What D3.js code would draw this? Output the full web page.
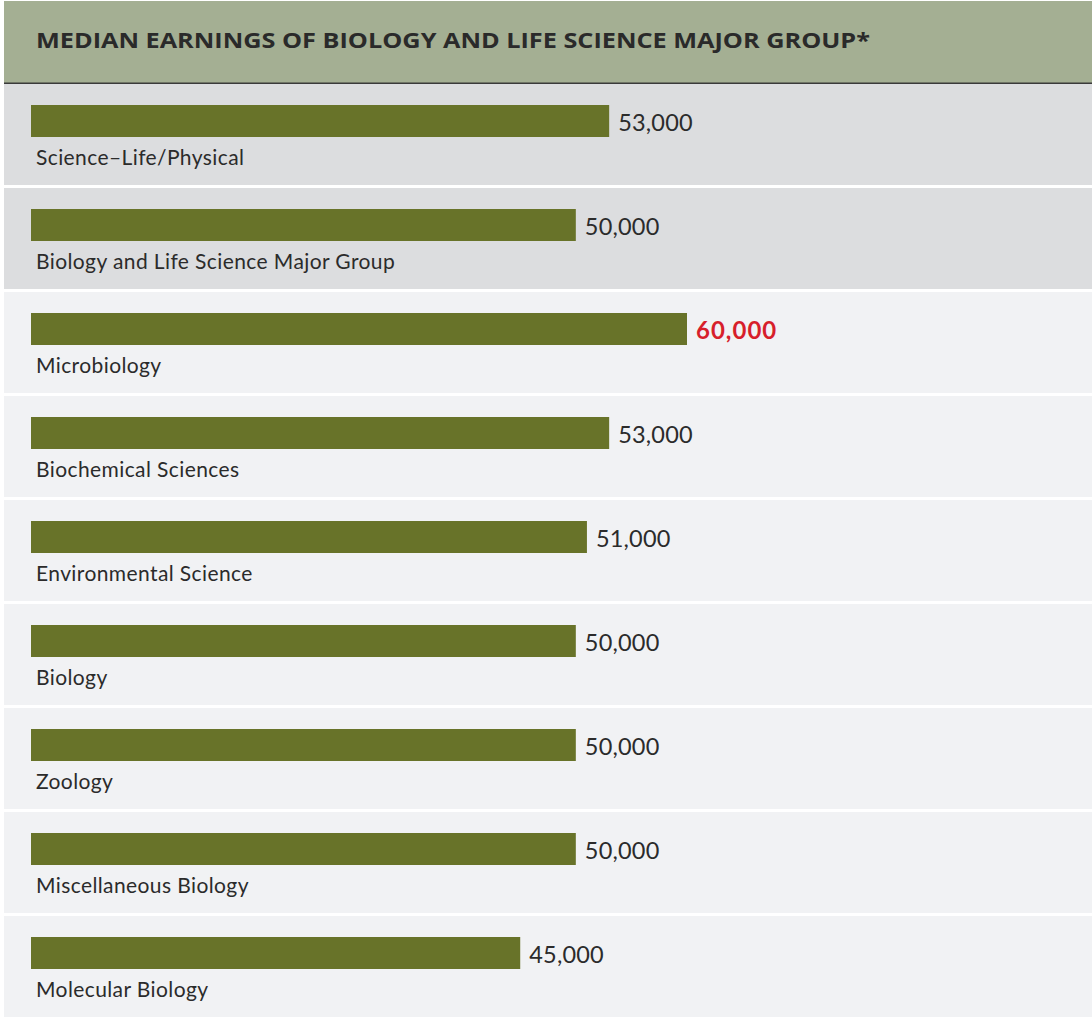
<!DOCTYPE html>
<html>
<head>
<meta charset="utf-8">
<script src="https://cdn.jsdelivr.net/npm/d3@7"></script>
<style>
  html, body { margin: 0; padding: 0; background: #ffffff; }
  svg { display: block; }
</style>
</head>
<body>
<svg id="chart" width="1092" height="1017"></svg>
<script>
const title = "MEDIAN EARNINGS OF BIOLOGY AND LIFE SCIENCE MAJOR GROUP*";
const categories = [
  "Science\u2013Life/Physical",
  "Biology and Life Science Major Group",
  "Microbiology",
  "Biochemical Sciences",
  "Environmental Science",
  "Biology",
  "Zoology",
  "Miscellaneous Biology",
  "Molecular Biology"
];
const values = [53000, 50000, 60000, 53000, 51000, 50000, 50000, 50000, 45000];
const summaryRows = ["Science\u2013Life/Physical", "Biology and Life Science Major Group"];
const highlight = ["Microbiology"];

const svg = d3.select("#chart");
const W = 1092, H = 1017;

// header
svg.append("rect").attr("x", 4).attr("y", 1).attr("width", W - 4).attr("height", 82).attr("fill", "#a4af93");
svg.append("rect").attr("x", 4).attr("y", 82.5).attr("width", W - 4).attr("height", 1.5).attr("fill", "#3a3a3a");
svg.append("text")
  .attr("x", 36).attr("y", 47.5)
  .attr("font-family", "'Open Sans', Lato, sans-serif")
  .attr("font-weight", 700)
  .attr("font-size", 20.5)
  .attr("fill", "#2a2a2a")
  .attr("textLength", 834)
  .attr("lengthAdjust", "spacingAndGlyphs")
  .text(title);

const y = d3.scaleBand().domain(categories).range([84, 1017]).paddingInner(3 / 104).paddingOuter(0);
const x = d3.scaleLinear().domain([1000, 60000]).range([31, 687]);
const fmt = d3.format(",");

const rows = svg.selectAll("g.row")
  .data(categories.map((c, i) => ({ c, v: values[i] })))
  .join("g").attr("class", "row")
  .attr("transform", d => `translate(0,${y(d.c)})`);

rows.append("rect")
  .attr("x", 4).attr("y", 0)
  .attr("width", W - 4).attr("height", y.bandwidth())
  .attr("fill", d => summaryRows.includes(d.c) ? "#dcdddf" : "#f1f2f4");

rows.append("rect")
  .attr("x", x(1000)).attr("y", 21)
  .attr("width", d => x(d.v) - x(1000)).attr("height", 32)
  .attr("fill", "#687329");

rows.append("text")
  .attr("x", d => x(d.v) + 9).attr("y", 47)
  .attr("font-family", "Lato, 'Open Sans', sans-serif")
  .attr("font-size", d => highlight.includes(d.c) ? 24 : 23.5)
  .attr("font-weight", d => highlight.includes(d.c) ? 700 : 400)
  .attr("letter-spacing", d => highlight.includes(d.c) ? 1 : 0.2)
  .attr("fill", d => highlight.includes(d.c) ? "#d71f2b" : "#2b2b2b")
  .text(d => fmt(d.v));

rows.append("text")
  .attr("x", 36).attr("y", 81)
  .attr("font-family", "Lato, 'Open Sans', sans-serif")
  .attr("font-size", 21)
  .attr("letter-spacing", 0.4)
  .attr("fill", "#2b2b2b")
  .text(d => d.c);
</script>
</body>
</html>
